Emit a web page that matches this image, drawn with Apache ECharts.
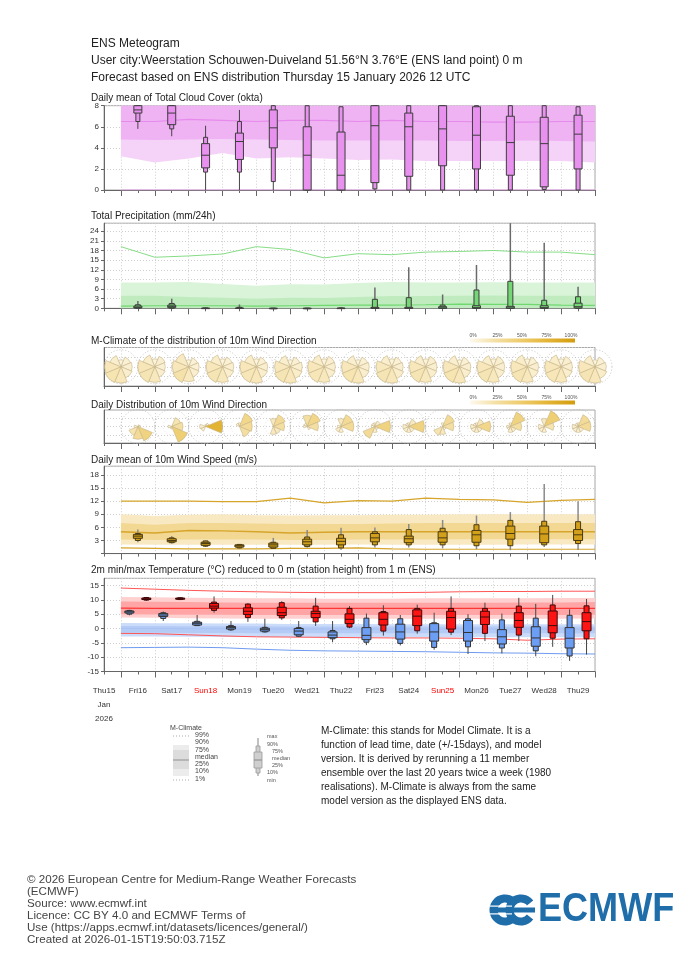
<!DOCTYPE html>
<html><head><meta charset="utf-8">
<script src="https://cdn.jsdelivr.net/npm/echarts@6.0.0/dist/echarts.min.js"></script>
<style>html,body{margin:0;padding:0;background:#fff}#c{width:700px;height:966px}</style>
</head><body><div id="c"></div>
<script>
// ---------- DATA ----------
const dayLabels = ['Thu15','Fri16','Sat17','Sun18','Mon19','Tue20','Wed21','Thu22','Fri23','Sat24','Sun25','Mon26','Tue27','Wed28','Thu29'];
const sundays = ['Sun18','Sun25'];
// times in days since forecast base Thu 15 Jan 2026 12 UTC
const climTimes = [0.5,1.5,2.5,3.5,4.5,5.5,6.5,7.5,8.5,9.5,10.5,11.5,12.5,13.5,14.5];
const dailyTimes = [1,2,3,4,5,6,7,8,9,10,11,12,13,14];
const tminTimes = [0.75,1.75,2.75,3.75,4.75,5.75,6.75,7.75,8.75,9.75,10.75,11.75,12.75,13.75];
const tmaxTimes = [1.25,2.25,3.25,4.25,5.25,6.25,7.25,8.25,9.25,10.25,11.25,12.25,13.25,14.25];

// boxes: [min, p10, p25, median, p75, p90, max]
const cloudBoxes = [[5.8,6.5,7.3,7.6,8,8,8],[5.1,5.8,6.2,7.3,8,8,8],[0,1.7,2.1,3.3,4.4,5.0,6.1],[0,1.7,2.9,4.6,5.4,6.5,7.6],
 [0,0.8,4.0,5.9,7.6,8,8],[0,0,0,3.3,6.0,8,8],[0,0,0,1.4,5.5,7.9,7.9],[0,0.1,0.7,6.1,8,8,8],[0,0,1.3,6.0,7.3,8,8],
 [0,0,2.3,5.8,8,8,8],[0,0,2.0,5.2,7.9,8,8],[0,0,1.4,4.5,7.0,8,8],[0,0.05,0.3,4.4,6.9,8,8],[0,0,2.0,5.3,7.1,7.9,7.9]];
const cloudClimP1  = [0,0,0,0,0,0,0,0,0,0,0,0,0,0,0];
const cloudClimP10 = [3.2,2.6,3.0,3.5,3.0,3.1,3.0,2.85,2.9,2.75,2.75,2.75,2.75,2.75,2.6];
const cloudClimP25 = [4.8,4.75,4.8,4.85,4.8,4.75,4.7,4.7,4.7,4.7,4.65,4.65,4.7,4.65,4.6];
const cloudClimMed = [6.5,6.5,6.7,6.6,6.5,6.6,6.6,6.5,6.6,6.5,6.5,6.45,6.45,6.5,6.5];
const cloudClimP75 = [8,8,8,8,8,8,8,8,8,8,8,8,8,8,8];
const cloudClimP90 = [8,8,8,8,8,8,8,8,8,8,8,8,8,8,8];

const precipBoxes = [[0,0,0.1,0.3,0.7,1.1,2.3],[0,0,0.2,0.6,1.0,1.5,3.0],[0,0,0,0,0.05,0.1,0.2],[0,0,0,0,0.1,0.3,1.2],
 [0,0,0,0,0,0.05,0.1],[0,0,0,0,0,0.05,0.1],[0,0,0,0,0.05,0.1,0.3],[0,0,0,0.05,0.3,2.8,6.5],[0,0,0,0.05,0.3,3.3,12.8],
 [0,0,0,0.1,0.5,1.0,4.3],[0,0,0,0.2,0.8,5.7,13.5],[0,0,0,0.1,0.6,8.4,28],[0,0,0,0.2,0.8,2.5,20.4],[0,0,0.1,0.5,1.6,3.6,6.7]];
const precipClimP10 = [0,0,0,0,0,0,0,0,0,0,0,0,0,0,0];
const precipClimP25 = [0.1,0.1,0.1,0.1,0.1,0.1,0.1,0.1,0.1,0.1,0.1,0.1,0.1,0.1,0.1];
const precipClimMed = [0.7,0.8,0.8,0.8,0.7,0.8,0.9,1.0,1.0,1.1,1.3,1.2,1.2,1.0,0.9];
const precipClimP75 = [3.9,3.9,3.5,3.3,3.0,3.3,3.2,3.5,3.8,3.8,3.9,4.0,3.9,3.9,3.9];
const precipClimP90 = [8.0,8.0,8.2,7.6,7.0,7.5,7.4,7.9,8.2,8.0,8.0,8.1,8.0,8.0,8.0];
const precipClimP99 = [19.2,15.9,16.3,16.9,19.2,18.3,15.7,17.0,16.7,17.5,17.7,18.0,17.5,17.5,16.7];

const windBoxes = [[2.6,3.0,3.5,4.0,4.4,4.6,5.5],[2.3,2.5,2.7,3.0,3.4,3.6,4.0],[1.5,1.7,1.9,2.3,2.6,2.9,3.0],[1.2,1.3,1.5,1.8,2.0,2.1,2.2],
 [1.1,1.2,1.5,2.0,2.4,2.6,3.6],[1.4,1.6,2.0,2.7,3.3,3.8,5.4],[0.9,1.3,2.0,2.8,3.5,4.3,5.9],[1.4,2.0,2.7,3.6,4.6,5.0,6.0],
 [1.4,2.0,2.5,3.4,4.0,5.5,6.8],[1.2,2.0,2.6,3.6,5.0,5.8,7.7],[1.0,1.8,2.6,4.3,5.3,6.6,8.7],[0.8,1.8,3.3,4.6,6.3,7.6,9.5],
 [1.5,2.0,2.5,4.5,6.3,7.4,15.9],[0.8,2.3,3.0,4.3,5.5,7.3,12.0]];
const windClimP1  = [1.3,1.2,1.1,1.1,1.1,1.2,1.2,1.3,1.1,1.0,1.0,1.0,1.0,1.0,1.0];
const windClimP10 = [2.1,2.0,2.0,2.0,2.0,2.0,2.0,2.1,2.0,2.0,2.0,2.0,2.1,2.1,2.1];
const windClimP25 = [3.2,3.1,3.2,3.2,3.2,3.1,3.1,3.2,3.2,3.2,3.3,3.3,3.3,3.3,3.3];
const windClimMed = [5.0,4.7,5.3,5.2,5.0,4.7,4.9,5.0,5.0,5.0,5.0,5.0,5.0,5.0,5.0];
const windClimP75 = [7.0,6.6,7.0,7.0,6.9,6.8,6.8,6.8,6.9,7.0,7.0,7.0,7.0,7.0,7.0];
const windClimP90 = [9.0,8.6,8.9,9.0,8.8,8.7,8.8,8.8,8.9,8.9,9.0,9.0,9.0,9.0,9.0];
const windClimP99 = [12.0,12.0,12.0,11.9,11.9,12.7,11.6,12.1,12.0,12.7,12.4,12.3,11.7,12.2,12.4];

const tminBoxes = [[4.6,5.0,5.4,5.8,6.1,6.3,6.5],[2.6,3.5,4.2,4.7,5.2,5.5,5.9],[0.9,1.0,1.2,1.8,2.2,2.5,4.7],[-0.8,-0.5,-0.2,0.3,0.7,1.0,2.6],
 [-1.4,-1.2,-0.9,-0.3,0.1,0.4,3.4],[-2.9,-2.7,-2.2,-0.9,0.0,0.3,2.6],[-4.8,-3.6,-3.2,-2.3,-1.2,-0.7,2.6],[-5.8,-4.8,-3.9,-2.4,0.3,3.6,5.2],
 [-5.9,-5.2,-3.7,-1.2,1.5,3.4,4.7],[-7.4,-6.6,-4.4,-1.2,1.7,2.0,5.5],[-8.9,-6.4,-4.4,-1.4,2.8,3.4,5.0],[-8.7,-6.8,-5.4,-2.9,-0.4,3.0,5.2],
 [-9.7,-7.8,-6.2,-3.3,0.6,3.6,8.6],[-11.3,-9.6,-6.8,-3.4,0.3,4.6,6.7]];
const tmaxBoxes = [[9.6,9.9,10.1,10.3,10.6,10.8,11.0],[9.9,10.1,10.2,10.4,10.6,10.7,10.9],[5.5,6.3,7.1,7.8,8.7,9.2,11.2],[2.3,3.8,4.9,6.0,7.2,8.5,8.8],
 [3.0,3.7,4.5,5.5,7.4,9.0,9.5],[0.9,2.3,3.8,5.2,6.0,7.8,10.7],[0.1,0.5,1.7,3.2,5.1,7.0,7.8],[-2.5,-0.9,1.2,3.2,5.5,5.9,8.1],
 [-1.8,-0.8,1.0,4.3,6.5,7.0,8.3],[-2.3,-1.3,-0.2,3.8,6.0,7.0,11.2],[-4.4,-1.7,1.4,4.0,6.0,7.0,9.0],[-4.4,-2.3,0.4,2.8,5.5,7.8,10.7],
 [-6.4,-3.4,-1.5,1.0,6.1,8.2,11.7],[-9.1,-3.6,-0.8,2.4,5.5,7.9,10.3]];
const tmaxClimP1  = [-1.7,-1.8,-2.2,-2.6,-2.9,-3.0,-3.1,-3.2,-3.3,-3.3,-3.4,-3.6,-4.1,-3.7,-3.6];
const tmaxClimP10 = [3.8,3.7,3.6,3.5,3.4,3.4,3.4,3.4,3.4,3.4,3.4,3.4,3.4,3.4,3.5];
const tmaxClimP25 = [5.0,4.9,4.8,4.8,4.7,4.7,4.7,4.7,4.7,4.7,4.7,4.7,4.7,4.7,4.8];
const tmaxClimMed = [7.1,7.0,7.0,7.0,7.0,7.0,7.0,7.0,7.0,7.0,7.0,7.0,7.0,7.0,7.0];
const tmaxClimP75 = [9.4,9.3,9.2,9.1,9.0,9.0,9.0,9.0,9.0,9.0,9.0,9.0,9.1,9.1,9.2];
const tmaxClimP90 = [11.0,10.9,10.7,10.6,10.5,10.5,10.4,10.4,10.4,10.5,10.5,10.5,10.5,10.6,10.6];
const tmaxClimP99 = [14.1,13.7,13.3,13.0,12.8,12.6,12.5,12.5,12.5,12.6,12.8,12.9,12.9,13.0,13.0];
const tminClimP1  = [-6.7,-6.6,-6.5,-6.7,-7.2,-7.6,-7.8,-7.9,-8.0,-8.1,-8.3,-8.5,-8.6,-8.8,-8.9];
const tminClimP10 = [-2.8,-2.8,-2.9,-3.0,-3.0,-3.0,-3.1,-3.1,-3.1,-3.1,-3.1,-3.1,-3.1,-3.1,-3.1];
const tminClimP25 = [-1.5,-1.5,-1.6,-1.6,-1.7,-1.7,-1.7,-1.7,-1.7,-1.7,-1.7,-1.7,-1.7,-1.7,-1.7];
const tminClimMed = [0.0,0.0,-0.1,-0.1,-0.2,-0.2,-0.2,-0.2,-0.2,-0.2,-0.2,-0.2,-0.2,-0.2,-0.2];
const tminClimP75 = [0.9,0.9,0.8,0.8,0.8,0.7,0.7,0.7,0.7,0.7,0.7,0.7,0.7,0.7,0.7];
const tminClimP90 = [1.9,1.8,1.8,1.7,1.7,1.6,1.6,1.6,1.5,1.5,1.5,1.5,1.5,1.5,1.5];

// wind direction frequencies (%) per sector: [N, NE, E, SE, S, SW, W, NW]
const climRose = [[5,9,10,11,17,20,17,11],[6,10,9,10,16,19,18,12],[5,8,9,10,15,22,17,14],[6,9,10,11,16,19,17,12],
 [6,9,10,11,17,18,17,12],[5,9,11,12,17,19,16,11],[6,10,10,11,16,18,17,12],[5,9,10,11,17,20,17,11],[6,9,10,12,17,19,16,11],
 [6,10,10,11,16,19,17,11],[5,9,10,11,17,20,17,11],[6,10,10,11,16,19,17,11],[6,9,10,11,16,19,17,12],[6,10,10,11,16,18,17,12],
 [5,9,10,12,17,19,17,11]];
const dailyRose = [[0,2,3,40,30,20,5,0],[0,20,25,45,3,2,5,0],[2,5,75,0,0,8,10,0],[5,35,30,25,0,0,0,5],[15,30,25,15,15,0,0,0],
 [25,35,25,5,0,0,5,5],[15,30,30,0,10,10,5,0],[5,10,40,5,10,30,5,5],[5,15,40,10,10,10,10,5],[5,30,25,5,15,20,0,0],
 [5,15,35,10,10,10,10,5],[5,40,25,10,10,5,5,0],[15,45,20,0,10,10,10,0],[5,30,30,10,10,10,10,5]];
const rosePctTicks = ['0%','25%','50%','75%','100%'];

// ---------- HELPERS ----------
const FONT = 'Liberation Sans, Arial, sans-serif';
const quarterCats = Array.from({length:59}, (_, i) => 'q' + i);
const halfCats = Array.from({length:30}, (_, i) => 'h' + i);
const rampStops = [[0,[253,249,238]],[0.25,[244,223,162]],[0.5,[238,203,105]],[0.75,[227,179,52]],[1,[211,156,14]]];
function ramp(t){
  t = Math.max(0, Math.min(1, t));
  for (let i = 1; i < rampStops.length; i++) {
    if (t <= rampStops[i][0]) {
      const a = rampStops[i-1], b = rampStops[i], f = (t - a[0]) / (b[0] - a[0]);
      const c = a[1].map((v, k) => Math.round(v + (b[1][k] - v) * f));
      return 'rgb(' + c.join(',') + ')';
    }
  }
  return 'rgb(211,156,14)';
}

const panels = [
  {top:105.7, height:84.3, min:0, max:8, interval:2, showMax:true},
  {top:223.2, height:85.1, min:0, max:26.5, interval:3},
  {top:347.5, height:38.5, min:0, max:1, interval:0.25, rose:true},
  {top:410, height:33, min:0, max:1, interval:0.25, rose:true},
  {top:466.2, height:87.4, min:0, max:20, interval:3, hideZero:true},
  {top:578.3, height:93.2, min:-15, max:17.5, interval:5, labels:true}
];
const grid = [], xAxis = [], yAxis = [], series = [];
const dotted = {color:'#cfcfcf', type:[1,2], width:1};
panels.forEach((p, gi) => {
  grid.push({left:104, width:491, top:p.top, height:p.height, show:true, borderColor:'#a8a8a8', borderWidth:1, outerBoundsMode:'none'});
  xAxis.push({type:'value', gridIndex:gi, min:0, max:14.5, show:false});
  xAxis.push({type:'category', gridIndex:gi, data:quarterCats, boundaryGap:false, position:'bottom',
    axisLine:{show:false}, axisTick:{show:true, length:3, lineStyle:{color:'#666'}}, axisLabel:{show:false}, splitLine:{show:false}});
  xAxis.push({type:'category', gridIndex:gi, data:halfCats, boundaryGap:false, position:'bottom',
    axisLine:{show:true, lineStyle:{color:'#666'}},
    axisTick:{show:true, length:6, interval:(i) => i % 2 === 1, lineStyle:{color:'#666'}},
    axisLabel: p.labels ? {show:true, interval:(i) => i % 2 === 0, fontSize:8, color:'#333', margin:12, lineHeight:14,
       fontFamily:FONT, showMinLabel:true, showMaxLabel:true, hideOverlap:false,
       formatter:(v, i) => { const d = dayLabels[i/2]; if (!d) return ''; if (sundays.includes(d)) return '{s|' + d + '}'; return i === 0 ? d + '\nJan\n2026' : d; },
       rich:{s:{color:'#ff0000', fontSize:8, fontFamily:FONT}}} : {show:false},
    splitLine:{show:true, interval:(i) => i % 2 === 1, lineStyle:dotted}});
  yAxis.push({type:'value', gridIndex:gi, min:p.min, max:p.max, interval:p.interval,
    axisLine:{show:true, lineStyle:{color:'#666'}},
    axisTick:{show:!p.rose, length:3, lineStyle:{color:'#666'}},
    axisLabel:{show:!p.rose, fontSize:8, color:'#333', margin:5, fontFamily:FONT, showMinLabel:true, showMaxLabel:!!p.showMax,
      formatter:(v) => (p.hideZero && v === 0) ? '' : String(v)},
    splitLine:{show:true, lineStyle:dotted}});
});

function band(gi, times, lo, hi, color){
  return {type:'custom', xAxisIndex:gi*3, yAxisIndex:gi, silent:true, data:[[times[0], lo[0]]],
    renderItem:(params, api) => {
      const pts = [];
      for (let i = 0; i < times.length; i++) pts.push(api.coord([times[i], hi[i]]));
      for (let i = times.length - 1; i >= 0; i--) pts.push(api.coord([times[i], lo[i]]));
      return {type:'polygon', shape:{points:pts}, style:{fill:color}};
    }};
}
function line(gi, times, vals, color, width){
  return {type:'line', xAxisIndex:gi*3, yAxisIndex:gi, silent:true, symbol:'none',
    data:times.map((t, i) => [t, vals[i]]), lineStyle:{color:color, width:width || 1}, z:3};
}
function boxes(gi, times, rows, fill, stroke, wW, nW, whisker, ww){
  return {type:'custom', xAxisIndex:gi*3, yAxisIndex:gi, z:4, silent:true,
    data:times.map((t, i) => [t].concat(rows[i])),
    encode:{x:0, y:[1,2,3,4,5,6,7]},
    renderItem:(params, api) => {
      const cs = params.coordSys;
      const cl = (y) => Math.max(cs.y, Math.min(cs.y + cs.height, y));
      const x = api.value(0);
      const px = api.coord([x, 0])[0];
      const Y = (k) => cl(api.coord([x, api.value(k)])[1]);
      const yMin = Y(1), y10 = Y(2), y25 = Y(3), yMed = Y(4), y75 = Y(5), y90 = Y(6), yMax = Y(7);
      return {type:'group', children:[
        {type:'line', shape:{x1:px, y1:yMax, x2:px, y2:yMin}, style:{stroke:whisker, lineWidth:ww}},
        {type:'rect', shape:{x:px - nW/2, y:y90, width:nW, height:Math.max(y10 - y90, 0.5)}, style:{fill:fill, stroke:stroke, lineWidth:1}},
        {type:'rect', shape:{x:px - wW/2, y:y75, width:wW, height:Math.max(y25 - y75, 0.5)}, style:{fill:fill, stroke:stroke, lineWidth:1}},
        {type:'line', shape:{x1:px - wW/2, y1:yMed, x2:px + wW/2, y2:yMed}, style:{stroke:stroke, lineWidth:1}}
      ]};
    }};
}
function roses(gi, times, rows, R, ref){
  return {type:'custom', xAxisIndex:gi*3, yAxisIndex:gi, z:4, silent:true,
    data:times.map((t, i) => [t].concat(rows[i])),
    encode:{x:0, y:1},
    renderItem:(params, api) => {
      const c = api.coord([api.value(0), 0.5]);
      const kids = [{type:'circle', shape:{cx:c[0], cy:c[1], r:R}, style:{fill:'none', stroke:'#b5b5b5', lineWidth:0.8, lineDash:[1,2]}},
                    {type:'circle', shape:{cx:c[0], cy:c[1], r:R/2}, style:{fill:'none', stroke:'#d5d5d5', lineWidth:0.6, lineDash:[1,2]}}];
      for (let i = 0; i < 8; i++) {
        const p = api.value(i + 1);
        if (!p) continue;
        const r = R * Math.min(1, Math.pow(p / ref, 0.7));
        const a0 = (i*45 - 22.5 - 90) * Math.PI / 180, a1 = (i*45 + 22.5 - 90) * Math.PI / 180;
        kids.push({type:'sector', shape:{cx:c[0], cy:c[1], r0:0, r:r, startAngle:a0, endAngle:a1, clockwise:true},
          style:{fill:ramp(p/100), stroke:'#c6b488', lineWidth:0.6}});
      }
      return {type:'group', children:kids};
    }};
}

// cloud
series.push(band(0, climTimes, cloudClimP10, cloudClimP90, '#f5d2f7'));
series.push(band(0, climTimes, cloudClimP25, cloudClimP75, '#efb3f3'));
series.push(line(0, climTimes, cloudClimMed, '#e68aec', 1.2));
series.push(line(0, climTimes, cloudClimP1, '#e9a6ee', 1));
series.push(boxes(0, dailyTimes, cloudBoxes, '#e891ef', '#3d3d3d', 8, 4, '#444', 1));
// precip
series.push(band(1, climTimes, precipClimP10, precipClimP90, '#d9f4d9'));
series.push(band(1, climTimes, precipClimP25, precipClimP75, '#bfebbf'));
series.push(line(1, climTimes, precipClimMed, '#6fd86f', 1.2));
series.push(line(1, climTimes, precipClimP99, '#86dd86', 1));
series.push(boxes(1, dailyTimes, precipBoxes, '#74d674', '#3d3d3d', 8, 5, '#6a6a6a', 1.5));
// roses
series.push(roses(2, climTimes, climRose, 17, 18));
series.push(roses(3, dailyTimes, dailyRose, 17, 45));
// wind speed
series.push(band(4, climTimes, windClimP10, windClimP90, '#f9e9c3'));
series.push(band(4, climTimes, windClimP25, windClimP75, '#f3d894'));
series.push(line(4, climTimes, windClimMed, '#d6a52a', 1.4));
series.push(line(4, climTimes, windClimP1, '#d6a52a', 1.2));
series.push(line(4, climTimes, windClimP99, '#d6a52a', 1.2));
series.push(boxes(4, dailyTimes, windBoxes, '#d3a01c', '#4a3a10', 9, 5, '#8a8a8a', 1.5));
// temperature
series.push(band(5, climTimes, tmaxClimP10, tmaxClimP90, '#ffd0d0'));
series.push(band(5, climTimes, tmaxClimP25, tmaxClimP75, '#ffa5a5'));
series.push(band(5, climTimes, tminClimP10, tminClimP90, '#cbdbfa'));
series.push(band(5, climTimes, tminClimP25, tminClimP75, '#b4cbf6'));
series.push(line(5, climTimes, tmaxClimMed, '#ff3636', 1.4));
series.push(line(5, climTimes, tminClimMed, '#a9c2f2', 1));
series.push(line(5, climTimes, tmaxClimP99, '#ff5555', 1));
series.push(line(5, climTimes, tmaxClimP1, '#ff5555', 1));
series.push(line(5, climTimes, tminClimP1, '#6f9bf0', 1));
series.push(boxes(5, tminTimes, tminBoxes, '#6c9ef3', '#333', 9, 5, '#444', 1));
series.push(boxes(5, tmaxTimes, tmaxBoxes, '#ff1414', '#3a0a0a', 9, 5, '#444', 1));

// ---------- STATIC TEXT / LEGENDS ----------
const g = [];
function txt(x, y, s, size, fill, extra){
  g.push(Object.assign({type:'text', x:x, y:y, silent:true, style:{text:s, fontSize:size, fontFamily:FONT, fill:fill || '#222', verticalAlign:'middle', align:'left'}}, extra || {}));
}
txt(91, 44, 'ENS Meteogram', 12);
txt(91, 61, 'User city:Weerstation Schouwen-Duiveland 51.56°N 3.76°E (ENS land point) 0 m', 12);
txt(91, 78, 'Forecast based on ENS distribution Thursday 15 January 2026 12 UTC', 12);
txt(91, 98.5, 'Daily mean of Total Cloud Cover (okta)', 10);
txt(91, 216, 'Total Precipitation (mm/24h)', 10);
txt(91, 341, 'M-Climate of the distribution of 10m Wind Direction', 10);
txt(91, 405, 'Daily Distribution of 10m Wind Direction', 10);
txt(91, 460, 'Daily mean of 10m Wind Speed (m/s)', 10);
txt(91, 570, '2m min/max Temperature (°C) reduced to 0 m (station height) from 1 m (ENS)', 10);

// colour bars
[[340.5, 335.5], [402.5, 397.5]].forEach(([by, ty]) => {
  g.push({type:'rect', silent:true, shape:{x:470, y:by - 2, width:105, height:4},
    style:{fill:new echarts.graphic.LinearGradient(0, 0, 1, 0, rampStops.map(s => ({offset:s[0], color:'rgb(' + s[1].join(',') + ')'})))}});
  rosePctTicks.forEach((s, i) => {
    g.push({type:'text', silent:true, x:473 + i*24.5, y:ty, style:{text:s, fontSize:5, fontFamily:FONT, fill:'#555', align:'center', verticalAlign:'middle'}});
  });
});

// M-Climate legend
txt(170, 728.5, 'M-Climate', 7, '#444');
const legRows = [['99%',735],['90%',742.5],['75%',750],['median',757],['25%',764],['10%',771.5],['1%',779]];
legRows.forEach(([s, y]) => txt(195, y, s, 7, '#444'));
g.push({type:'line', silent:true, shape:{x1:173, y1:736, x2:189, y2:736}, style:{stroke:'#aaa', lineDash:[1,2], lineWidth:1}});
g.push({type:'line', silent:true, shape:{x1:173, y1:780, x2:189, y2:780}, style:{stroke:'#aaa', lineDash:[1,2], lineWidth:1}});
g.push({type:'rect', silent:true, shape:{x:173, y:745, width:16, height:31}, style:{fill:'#ececec'}});
g.push({type:'rect', silent:true, shape:{x:173, y:750, width:16, height:19}, style:{fill:'#dcdcdc'}});
g.push({type:'line', silent:true, shape:{x1:173, y1:760, x2:189, y2:760}, style:{stroke:'#aaa', lineWidth:1.5}});
// box legend
g.push({type:'line', silent:true, shape:{x1:258, y1:738, x2:258, y2:776}, style:{stroke:'#999', lineWidth:1.2}});
g.push({type:'rect', silent:true, shape:{x:256, y:746, width:4, height:27}, style:{fill:'#cfcfcf', stroke:'#999', lineWidth:0.8}});
g.push({type:'rect', silent:true, shape:{x:254, y:752, width:8, height:16}, style:{fill:'#cfcfcf', stroke:'#999', lineWidth:0.8}});
g.push({type:'line', silent:true, shape:{x1:254, y1:760, x2:262, y2:760}, style:{stroke:'#888', lineWidth:1}});
[['max',267,736],['90%',267,744],['75%',272,751],['median',272,758],['25%',272,765],['10%',267,772.5],['min',267,780]]
  .forEach(([s, x, y]) => txt(x, y, s, 5.5, '#555'));
const para = ['M-Climate: this stands for Model Climate. It is a','function of lead time, date (+/-15days), and model',
  'version. It is derived by rerunning a 11 member','ensemble over the last 20 years twice a week (1980',
  'realisations). M-Climate is always from the same','model version as the displayed ENS data.'];
para.forEach((s, i) => txt(321, 731 + i*14.1, s, 10, '#222'));

// footer
const foot = ['© 2026 European Centre for Medium-Range Weather Forecasts','(ECMWF)','Source: www.ecmwf.int',
  'Licence: CC BY 4.0 and ECMWF Terms of','Use (https://apps.ecmwf.int/datasets/licences/general/)','Created at 2026-01-15T19:50:03.715Z'];
foot.forEach((s, i) => txt(27, 880 + i*12, s, 11.6, '#444'));

// logo
const LB = '#1f6eaa';
const gapA = 38 * Math.PI / 180;
g.push({type:'arc', silent:true, shape:{cx:505, cy:910, r:11.5, startAngle:gapA, endAngle:2*Math.PI - gapA, clockwise:true}, style:{stroke:LB, lineWidth:8, fill:'none'}});
g.push({type:'arc', silent:true, shape:{cx:521, cy:910, r:11.5, startAngle:gapA, endAngle:2*Math.PI - gapA, clockwise:true}, style:{stroke:LB, lineWidth:8, fill:'none'}});
g.push({type:'rect', silent:true, shape:{x:490, y:907.5, width:45, height:5}, style:{fill:LB}});
g.push({type:'rect', silent:true, shape:{x:490, y:905.5, width:22, height:1.2}, style:{fill:'#fff'}});
g.push({type:'rect', silent:true, shape:{x:490, y:913.3, width:22, height:1.2}, style:{fill:'#fff'}});
g.push({type:'text', silent:true, x:538, y:910, scaleX:0.88, style:{text:'ECMWF', fontSize:41, fontWeight:'bold', fontFamily:FONT, fill:LB, verticalAlign:'middle', align:'left'}});

const chart = echarts.init(document.getElementById('c'), null, {width:700, height:966});
chart.setOption({
  animation:false,
  backgroundColor:'#fff',
  textStyle:{fontFamily:FONT},
  grid:grid, xAxis:xAxis, yAxis:yAxis, series:series, graphic:g
});
</script>
</body></html>
